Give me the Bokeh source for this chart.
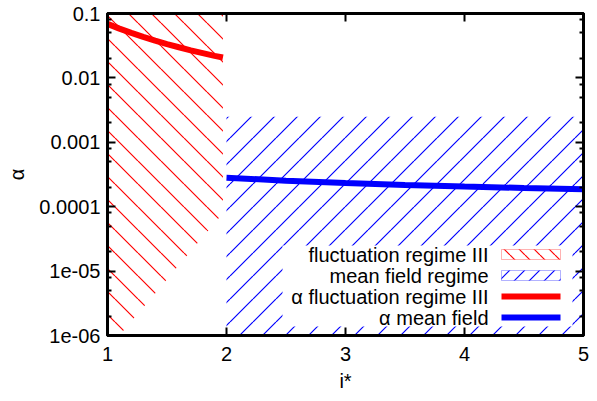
import base64
from bokeh.plotting import figure
from bokeh.core.properties import value
from bokeh.models import (FixedTicker, LinearAxis, LogAxis, BoxAnnotation, Label, Range1d,
                          CustomJSTickFormatter, ImageURLTexture)
from bokeh.embed import file_html
from bokeh.resources import INLINE

# ---- data ----
fluct_x = [1.0, 1.2, 1.4, 1.6, 1.8, 1.97]
fluct_lower = [6.1e-7, 1.66e-6, 4.5e-6, 1.24e-5, 3.37e-5, 7.9e-5]
fluct_upper = [0.1, 0.1, 0.1, 0.1, 0.1, 0.1]

mf_x = [2.0, 5.0]
mf_lower = [1e-6, 1e-6]
mf_upper = [2.5e-3, 2.5e-3]

alpha_fluct_x = [1.0, 1.1, 1.2, 1.3, 1.4, 1.5, 1.6, 1.7, 1.8, 1.9, 1.97]
alpha_fluct = [0.069, 0.0582, 0.0499, 0.0433, 0.0379, 0.0335, 0.0299, 0.0268, 0.0243, 0.0220, 0.0207]

alpha_mf_x = [2.0, 2.5, 3.0, 3.5, 4.0, 4.5, 5.0]
alpha_mf = [2.81e-4, 2.54e-4, 2.34e-4, 2.18e-4, 2.06e-4, 1.95e-4, 1.86e-4]

x_ticks = [1, 2, 3, 4, 5]
y_ticks = [1e-6, 1e-5, 1e-4, 1e-3, 1e-2, 1e-1]
y_tick_labels = ["1e-06", "1e-05", "0.0001", "0.001", "0.01", "0.1"]
y_minor_ticks = [2e-6, 5e-6, 8e-6, 2e-5, 5e-5, 8e-5, 2e-4, 5e-4, 8e-4,
                 2e-3, 5e-3, 8e-3, 2e-2, 5e-2, 8e-2]
legend_labels = ["fluctuation regime III", "mean field regime",
                 "\u03b1 fluctuation regime III", "\u03b1 mean field"]

RED = "#ff0000"
BLUE = "#0000ff"
FONT = "Liberation Sans"
FS = "20px"


# 45-degree hatch tiles (gnuplot-like), as small SVG images
def tile(color, s, forward):
    if forward:
        d = f"M{-s} {s}L0 0M0 {s}L{s} 0M{s} {s}L{2 * s} 0"
    else:
        d = f"M{-s} 0L0 {s}M0 0L{s} {s}M{s} 0L{2 * s} {s}"
    svg = (f'<svg xmlns="http://www.w3.org/2000/svg" width="{s}" height="{s}">'
           f'<path d="{d}" stroke="{color}" stroke-width="1.2" fill="none"/></svg>')
    url = "data:image/svg+xml;base64," + base64.b64encode(svg.encode()).decode()
    return ImageURLTexture(url=url)


TEX = {"redback": tile(RED, 23, False), "bluefwd": tile(BLUE, 23, True),
       "redback_s": tile(RED, 15, False), "bluefwd_s": tile(BLUE, 15, True)}

p = figure(width=597, height=401,
           x_range=Range1d(1, 5), y_range=Range1d(1e-6, 0.1),
           y_axis_type="log", output_backend="svg", toolbar_location=None,
           min_border_left=107, min_border_right=14, min_border_top=13, min_border_bottom=66)
p.grid.visible = False
p.outline_line_color = "black"
p.outline_line_width = 3
p.background_fill_color = "white"
p.border_fill_color = "white"

# hatched regions
p.varea(x=fluct_x, y1=fluct_lower, y2=fluct_upper, fill_alpha=0,
        hatch_pattern=value("redback"), hatch_extra=TEX, hatch_color=RED)
p.varea(x=mf_x, y1=mf_lower, y2=mf_upper, fill_alpha=0,
        hatch_pattern=value("bluefwd"), hatch_extra=TEX, hatch_color=BLUE)

# alpha curves
p.line(alpha_fluct_x, alpha_fluct, line_color=RED, line_width=6)
p.line(alpha_mf_x, alpha_mf, line_color=BLUE, line_width=6)

xt = FixedTicker(ticks=x_ticks, minor_ticks=[])
yt = FixedTicker(ticks=y_ticks, minor_ticks=y_minor_ticks)


def style(ax, labels=True):
    ax.axis_line_width = 3
    ax.axis_line_color = "black"
    ax.major_tick_in = 8
    ax.major_tick_out = 0
    ax.minor_tick_in = 4
    ax.minor_tick_out = 0
    ax.major_tick_line_width = 2
    ax.minor_tick_line_width = 2
    ax.major_tick_line_color = "black"
    ax.minor_tick_line_color = "black"
    ax.major_label_text_font = FONT
    ax.major_label_text_font_size = FS
    ax.major_label_text_color = "black"
    ax.axis_label_text_font = FONT
    ax.axis_label_text_font_size = FS
    ax.axis_label_text_font_style = "normal"
    ax.axis_label_text_color = "black"
    if not labels:
        ax.formatter = CustomJSTickFormatter(code="return ''")
        ax.major_label_standoff = 0


xa = p.xaxis[0]
ya = p.yaxis[0]
xa.ticker = xt
ya.ticker = yt
style(xa)
style(ya)
xa.major_label_standoff = 11
ya.major_label_standoff = 7
xa.axis_label = "i*"
ya.axis_label = "\u03b1"
xa.axis_label_standoff = 6
ya.axis_label_standoff = 8
ya.major_label_overrides = {t: s for t, s in zip(y_ticks, y_tick_labels)}

top = LinearAxis(ticker=xt)
style(top, labels=False)
p.add_layout(top, "above")
right = LogAxis(ticker=yt)
style(right, labels=False)
p.add_layout(right, "right")


# legend (gnuplot style: text left, sample right), in screen units of the frame
def sbox(**kw):
    return BoxAnnotation(left_units="screen", right_units="screen",
                         bottom_units="screen", top_units="screen", **kw)


p.add_layout(sbox(left=175, right=465, bottom=9, top=90,
                  fill_color="white", fill_alpha=1, line_color=None))
rows_y = [81, 60, 39, 18]
for lab, yy in zip(legend_labels, rows_y):
    p.add_layout(Label(x=381, y=yy, x_units="screen", y_units="screen", text=lab,
                       text_align="right", text_baseline="middle",
                       text_font=FONT, text_font_size=FS, text_color="black"))

p.add_layout(sbox(left=394, right=453, bottom=rows_y[0] - 5, top=rows_y[0] + 5,
                  fill_color="white", fill_alpha=1, line_color=RED, line_width=1,
                  hatch_pattern="redback_s", hatch_extra=TEX, hatch_color=RED))
p.add_layout(sbox(left=394, right=453, bottom=rows_y[1] - 5, top=rows_y[1] + 5,
                  fill_color="white", fill_alpha=1, line_color=BLUE, line_width=1,
                  hatch_pattern="bluefwd_s", hatch_extra=TEX, hatch_color=BLUE))
p.add_layout(sbox(left=394, right=453, bottom=rows_y[2] - 3, top=rows_y[2] + 3,
                  fill_color=RED, fill_alpha=1, line_color=None))
p.add_layout(sbox(left=394, right=453, bottom=rows_y[3] - 3, top=rows_y[3] + 3,
                  fill_color=BLUE, fill_alpha=1, line_color=None))

open("out.html", "w").write(file_html(p, INLINE))
